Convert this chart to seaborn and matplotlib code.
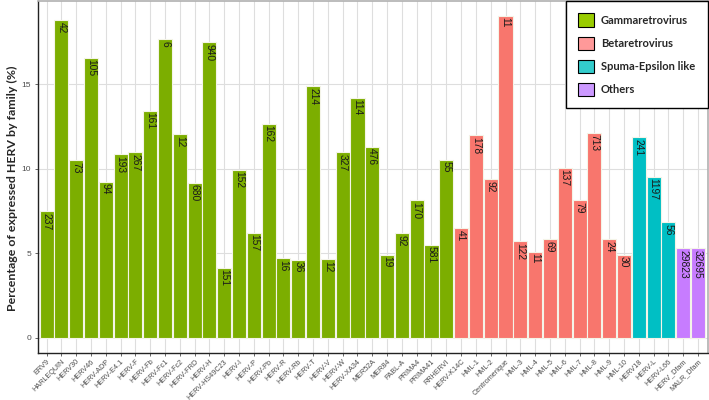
# HERV expression by family - bar chart
import pandas as pd
import numpy as np
import seaborn as sns
import matplotlib.pyplot as plt
from matplotlib.patches import Patch

# families and colours
family_names = ['Gammaretrovirus', 'Betaretrovirus', 'Spuma-Epsilon like', 'Others']
bar_colors = ['#7CAE00', '#F8766D', '#00BFC4', '#C77CFF']
legend_colors = ['#99CC00', '#FF9999', '#33CCCC', '#CC99FF']

# Gammaretrovirus
gamma_names = ['ERV9', 'HARLEQUIN', 'HERV30', 'HERV46', 'HERV-ADP', 'HERV-E4.1', 'HERV-F',
               'HERV-Fb', 'HERV-Fc1', 'HERV-Fc2', 'HERV-FRD', 'HERV-H', 'HERV-HS49C23', 'HERV-I',
               'HERV-P', 'HERV-Pb', 'HERV-R', 'HERV-Rb', 'HERV-T', 'HERV-V', 'HERV-W', 'HERV-XA34',
               'MER52A', 'MER84', 'PABL-A', 'PRIMA4', 'PRIMA41', 'RRHERVI']
gamma_pct = [7.5, 18.78, 10.51, 16.56, 9.23, 10.87, 10.99, 13.43, 17.66, 12.05, 9.17, 17.48,
             4.15, 9.94, 6.22, 12.66, 4.71, 4.63, 14.87, 4.67, 10.97, 14.2, 11.3, 4.92, 6.2,
             8.13, 5.51, 10.53]
gamma_counts = [237, 42, 73, 105, 94, 193, 267, 161, 6, 12, 680, 940, 151, 152, 157, 162, 16,
                36, 214, 12, 327, 114, 476, 19, 92, 170, 581, 55]

# Betaretrovirus
beta_names = ['HERV-K14C', 'HML-1', 'HML-2', 'Centromerique', 'HML-3', 'HML-4', 'HML-5',
              'HML-6', 'HML-7', 'HML-8', 'HML-9', 'HML-10']
beta_pct = [6.5, 11.99, 9.37, 19.04, 5.71, 5.1, 5.83, 10.06, 8.15, 12.13, 5.85, 4.92]
beta_counts = [41, 178, 92, 11, 122, 11, 69, 137, 79, 713, 24, 30]

# Spuma-Epsilon like
spuma_names = ['HERV18', 'HERV-L', 'HERV-L66']
spuma_pct = [11.85, 9.53, 6.83]
spuma_counts = [241, 1197, 56]

# Others
other_names = ['HERV_Dfam', 'MALR_Dfam']
other_pct = [5.3, 5.3]
other_counts = [29823, 32695]

names = gamma_names + beta_names + spuma_names + other_names
pct = gamma_pct + beta_pct + spuma_pct + other_pct
counts = gamma_counts + beta_counts + spuma_counts + other_counts
family = ([family_names[0]] * len(gamma_names) + [family_names[1]] * len(beta_names)
          + [family_names[2]] * len(spuma_names) + [family_names[3]] * len(other_names))

df = pd.DataFrame({'name': names, 'pct': pct, 'count': counts, 'family': family})

sns.set_style('whitegrid', {'grid.color': '#DEDEDE', 'axes.edgecolor': '#AAAAAA'})
plt.rcParams['font.family'] = ['Liberation Sans', 'DejaVu Sans']

fig = plt.figure(figsize=(7.09, 4.0), dpi=100)
ax = fig.add_axes([0.053, 0.117, 0.945, 0.880])

sns.barplot(data=df, x='name', y='pct', hue='family', hue_order=family_names,
            palette=bar_colors, order=names, dodge=False, width=0.95, saturation=1,
            edgecolor='#F4F4E8', linewidth=0.8, legend=False, ax=ax)

# counts written inside the top of each bar
for cont in ax.containers:
    for p in cont.patches:
        h = p.get_height()
        if np.isnan(h) or h == 0:
            continue
        xc = p.get_x() + p.get_width() / 2
        i = int(round(xc))
        ax.text(xc, h - 0.1, str(counts[i]), rotation=270, ha='center', va='top',
                fontsize=7.4, color='#1A1A1A')

ax.set_xlim(-0.61, 44.65)
ax.set_ylim(-0.9, 19.9)
ax.set_yticks([0, 5, 10, 15])
ax.set_xlabel('')
ax.set_ylabel('Percentage of expressed HERV by family (%)', fontsize=8.9,
              fontweight='bold', family=['Lato', 'DejaVu Sans'])
ax.yaxis.set_label_coords(-0.029, 0.469)
ax.tick_params(axis='y', labelsize=6, colors='#4D4D4D', length=2.5, width=0.6, pad=2,
               left=True)
ax.tick_params(axis='x', labelsize=5.2, colors='#4D4D4D', length=2.5, width=0.6, pad=1,
               bottom=True)
plt.setp(ax.get_xticklabels(), rotation=45, ha='right', rotation_mode='anchor')
ax.grid(True, axis='both', linewidth=0.8)

for side in ['top', 'right']:
    ax.spines[side].set_color('#B0B0B0')
    ax.spines[side].set_linewidth(1.2)
for side in ['left', 'bottom']:
    ax.spines[side].set_color('#222222')
    ax.spines[side].set_linewidth(1.0)

handles = [Patch(facecolor=c, edgecolor='black', linewidth=0.8) for c in legend_colors]
leg = ax.legend(handles, family_names, loc='upper right', bbox_to_anchor=(1.0, 1.0),
                borderaxespad=0, fancybox=False, framealpha=1, edgecolor='black',
                handlelength=1.45, handleheight=1.45, labelspacing=0.9, borderpad=1.1,
                handletextpad=0.6, prop={'family': ['Lato', 'DejaVu Sans'],
                                         'weight': 'bold', 'size': 8})
leg.get_frame().set_linewidth(1.0)

plt.savefig('out.png', dpi=100)
